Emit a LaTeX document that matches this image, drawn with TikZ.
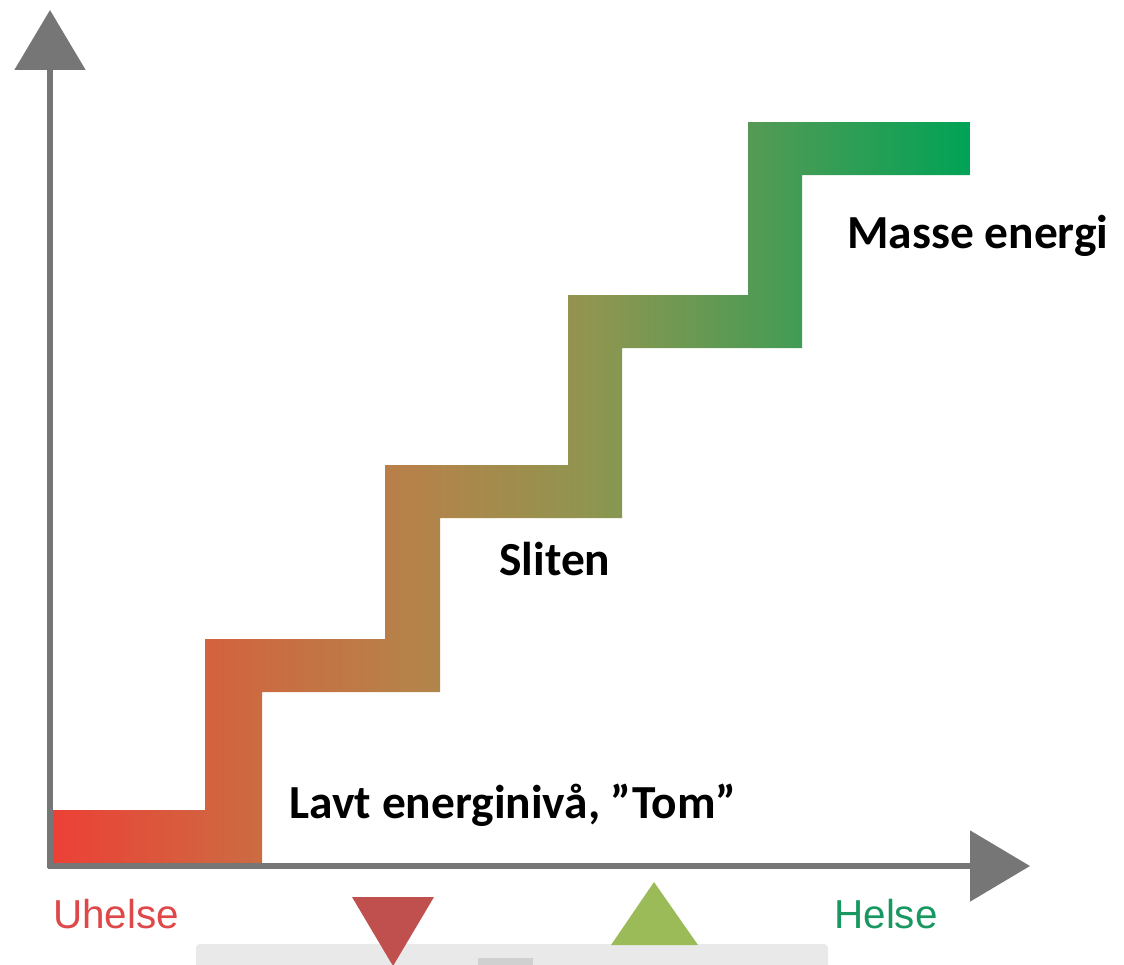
\documentclass[tikz,border=0pt]{standalone}
\usepackage{fontspec}
\setmainfont{Carlito}
\newfontfamily\arialfont{Liberation Sans}
\usepackage{tikz}
\usetikzlibrary{arrows.meta}
\definecolor{axisgray}{RGB}{118,118,118}
\definecolor{badred}{RGB}{222,72,72}
\definecolor{goodgreen}{RGB}{24,152,96}
\definecolor{downred}{RGB}{192,80,77}
\definecolor{upgreen}{RGB}{155,187,89}
\definecolor{barlight}{RGB}{233,233,233}
\definecolor{bardark}{RGB}{208,208,208}
\pgfdeclarehorizontalshading{stairshade}{100bp}{rgb(0bp)=(0.925,0.251,0.212);
 rgb(25bp)=(0.925,0.251,0.212);
 rgb(34.7bp)=(0.816,0.400,0.251);
 rgb(44.5bp)=(0.714,0.510,0.290);
 rgb(54.6bp)=(0.557,0.588,0.314);
 rgb(64.4bp)=(0.294,0.608,0.333);
 rgb(75bp)=(0,0.639,0.337);
 rgb(100bp)=(0,0.639,0.337)}
\def\labelnode{\node[anchor=base west,inner sep=0pt,font=\fontsize{27}{30}\selectfont\bfseries]}
\def\endnode{\node[anchor=base west,inner sep=0pt,font=\fontsize{23}{26}\selectfont\arialfont]}

\begin{document}
\begin{tikzpicture}[x=0.02cm,y=-0.02cm,
  axis/.style={draw=axisgray,line width=0.11cm,-{Triangle[length=1.2cm,width=1.4cm]}}]
\useasboundingbox (0,0) rectangle (1124,964);
\fill[barlight,rounded corners=0.08cm] (196,944) rectangle (828,975);
\fill[bardark] (478,958) rectangle (533,970);
\fill[downred] (352,897) -- (434,897) -- (393,966) -- cycle;
\fill[upgreen] (611,945) -- (698,945) -- (654,882) -- cycle;
\shade[shading=stairshade] (52,864) -- (262,864) -- (262,692) -- (440,692) -- (440,518)
  -- (622,518) -- (622,348) -- (802,348) -- (802,175) -- (970,175) -- (970,122)
  -- (748,122) -- (748,295) -- (568,295) -- (568,465) -- (385,465) -- (385,639)
  -- (205,639) -- (205,810) -- (52,810) -- cycle;
\coordinate (origin) at (50,866);
\coordinate (ytop) at (50,10);
\coordinate (xend) at (1030,866);
\draw[axis] (50,868) -- (ytop);
\draw[axis] (48,866) -- (xend);
\labelnode (high) at (847,248) {Masse energi};
\labelnode (worn) at (499,575) {Sliten};
\labelnode (low) at (289,818) {Lavt energinivå, ”Tom”};
\endnode[text=badred] (sick) at (53,928) {Uhelse};
\endnode[text=goodgreen] (well) at (834,928) {Helse};
\end{tikzpicture}
\end{document}
